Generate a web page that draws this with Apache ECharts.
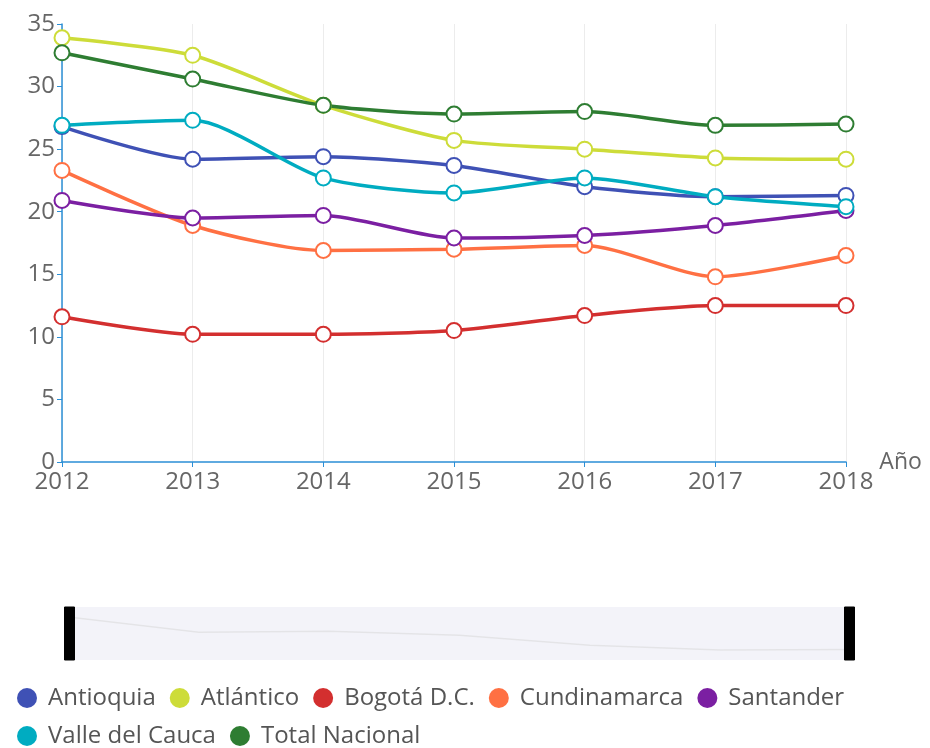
<!DOCTYPE html>
<html>
<head>
<meta charset="UTF-8">
<title></title>
<script src="https://cdn.jsdelivr.net/npm/echarts@6/dist/echarts.min.js"></script>
<style>
	html, body { margin: 0; padding: 0; background: #fff; }
	#chart { width: 930px; height: 748px; }
</style>
</head>
<body>
<div id="chart"></div>
<script type="text/javascript">
var years = ['2012', '2013', '2014', '2015', '2016', '2017', '2018'];
var antioquia = [26.8, 24.2, 24.4, 23.7, 22.0, 21.2, 21.3];
var atlantico = [33.9, 32.5, 28.5, 25.7, 25.0, 24.3, 24.2];
var bogota = [11.6, 10.2, 10.2, 10.5, 11.7, 12.5, 12.5];
var cundinamarca = [23.3, 18.9, 16.9, 17.0, 17.3, 14.8, 16.5];
var santander = [20.9, 19.5, 19.7, 17.9, 18.1, 18.9, 20.1];
var valle = [26.9, 27.3, 22.7, 21.5, 22.7, 21.2, 20.4];
var nacional = [32.7, 30.6, 28.5, 27.8, 28.0, 26.9, 27.0];

var names = ['Antioquia', 'Atlántico', 'Bogotá D.C.', 'Cundinamarca', 'Santander', 'Valle del Cauca', 'Total Nacional'];
var colors = ['#3f51b5', '#cddc39', '#d32f2f', '#ff7043', '#7b1fa2', '#00acc1', '#2e7d32'];
var values = [antioquia, atlantico, bogota, cundinamarca, santander, valle, nacional];

var series = [];
for (var i = 0; i < names.length; i++) {
	series.push({
		name: names[i],
		type: 'line',
		smooth: 0.25,
		symbol: 'emptyCircle',
		symbolSize: 15,
		lineStyle: { width: 3.5 },
		itemStyle: { borderWidth: 3.5 },
		data: values[i]
	});
}

var myChart = echarts.init(document.getElementById('chart'));
var option = {
	color: colors,
	textStyle: { fontFamily: 'Open Sans' },
	grid: { left: 62, right: 84, top: 24, bottom: 286 },
	legend: {
		data: names,
		left: 12,
		top: 681,
		width: 900,
		icon: 'circle',
		itemWidth: 20,
		itemHeight: 20,
		itemGap: 14,
		textStyle: { fontSize: 24, color: '#555', fontFamily: 'Open Sans', padding: [0, 4, 0, 6] }
	},
	dataZoom: [{
		type: 'slider',
		left: 66,
		right: 82,
		top: 607,
		height: 53,
		showDetail: false,
		moveHandleSize: 0,
		borderColor: 'transparent',
		backgroundColor: '#f6f6fb',
		fillerColor: 'rgba(240,240,248,0.4)',
		handleIcon: 'path://M0,0 L10,0 L10,53 L0,53 Z',
		handleSize: '100%',
		handleStyle: { color: '#000', borderColor: '#000' },
		dataBackground: {
			lineStyle: { color: '#ddd', width: 1.5 },
			areaStyle: { opacity: 0 }
		},
		selectedDataBackground: {
			lineStyle: { color: '#ddd', width: 1.5 },
			areaStyle: { opacity: 0 }
		}
	}],
	xAxis: {
		type: 'category',
		boundaryGap: false,
		data: years,
		name: 'Año',
		nameGap: 32,
		nameTextStyle: { fontSize: 23, color: '#666', padding: [0, 0, 8, 0] },
		axisLine: { lineStyle: { color: '#2b8fd6', width: 1.5 } },
		axisTick: { lineStyle: { color: '#2b8fd6' } },
		axisLabel: { fontSize: 24, color: '#666', margin: 8 },
		splitLine: { show: true, lineStyle: { color: '#ececec' } }
	},
	yAxis: {
		type: 'value',
		min: 0,
		max: 35,
		interval: 5,
		axisLine: { show: true, lineStyle: { color: '#2b8fd6', width: 1.5 } },
		axisTick: { show: true, lineStyle: { color: '#2b8fd6' } },
		axisLabel: { fontSize: 24, color: '#666', margin: 7 },
		splitLine: { show: false }
	},
	series: series
};
myChart.setOption(option, true);
</script>
</body>
</html>
